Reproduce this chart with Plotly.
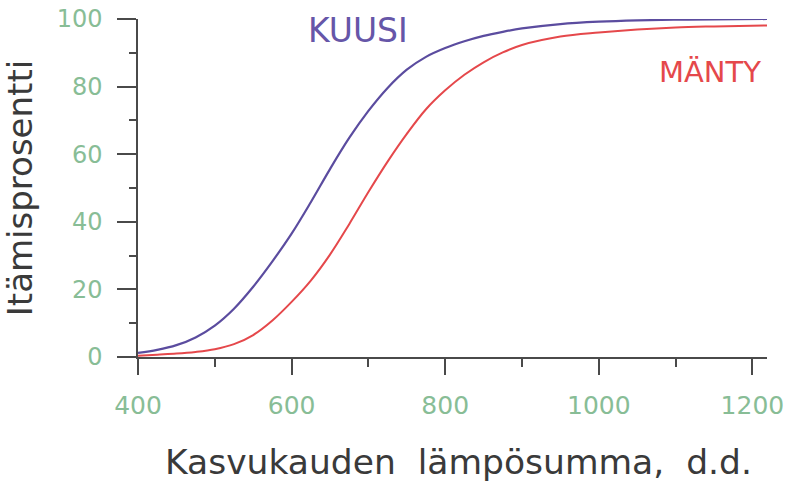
import plotly.graph_objects as go

# Data
lampo = [400, 425, 450, 475, 500, 525, 550, 575, 600, 625, 650, 675, 700, 725,
         750, 775, 800, 825, 850, 875, 900, 950, 1000, 1050, 1100, 1150, 1220]
kuusi = [1.2, 2.1, 3.5, 5.8, 9.3, 14.3, 20.8, 28.3, 36.5, 45.8, 55.6, 64.8, 72.8, 79.6,
         85.0, 88.8, 91.4, 93.4, 95.0, 96.2, 97.2, 98.5, 99.2, 99.6, 99.8, 99.9, 100]
manty = [0.4, 0.7, 1.0, 1.5, 2.3, 3.8, 6.5, 10.8, 16.3, 22.6, 30.3, 39.3, 48.8, 57.8,
         66.0, 73.3, 78.9, 83.5, 87.2, 90.1, 92.3, 94.8, 96.0, 96.9, 97.5, 97.8, 98.1]

x_ticks = [400, 600, 800, 1000, 1200]
y_ticks = [0, 20, 40, 60, 80, 100]

kuusi_color = "#5b4c9f"
manty_color = "#e5484b"
tick_color = "#88bd96"
axis_color = "#4a4a4a"
title_color = "#3a3a3a"
font_fam = "DejaVu Sans"

fig = go.Figure()
fig.add_trace(go.Scatter(x=lampo, y=manty, mode="lines",
                         line=dict(color=manty_color, width=2, shape="spline", smoothing=1),
                         cliponaxis=False, name="MÄNTY", showlegend=False))
fig.add_trace(go.Scatter(x=lampo, y=kuusi, mode="lines",
                         line=dict(color=kuusi_color, width=2.2, shape="spline", smoothing=1),
                         cliponaxis=False, name="KUUSI", showlegend=False))

fig.add_annotation(x=686, y=96.7, xref="x", yref="y", text="KUUSI", showarrow=False,
                   font=dict(family=font_fam, size=33, color="#6656a8"))
fig.add_annotation(x=1145, y=84.4, xref="x", yref="y", text="MÄNTY", showarrow=False,
                   font=dict(family=font_fam, size=29, color=manty_color))
# x-axis title
fig.add_annotation(x=0.5103, y=-0.312, xref="paper", yref="paper", xanchor="center", yanchor="middle",
                   text="Kasvukauden\u00a0\u00a0lämpösumma,\u00a0\u00a0d.d.", showarrow=False,
                   font=dict(family=font_fam, size=34.5, color=title_color))

fig.update_layout(
    width=788, height=482,
    margin=dict(l=138, r=21, t=19, b=125),
    paper_bgcolor="white", plot_bgcolor="white",
    font=dict(family=font_fam),
)
fig.update_xaxes(
    range=[400, 1219], tickvals=x_ticks, ticktext=[str(v) for v in x_ticks],
    automargin=False, ticklabeloverflow="allow",
    showgrid=False, zeroline=False, showline=True, linecolor=axis_color, linewidth=1.5,
    ticks="outside", ticklen=16, tickwidth=1.5, tickcolor=axis_color,
    minor=dict(dtick=100, tick0=400, ticks="outside", ticklen=8, tickwidth=1.5, tickcolor=axis_color, showgrid=False),
    tickfont=dict(family=font_fam, size=25, color=tick_color), ticklabelstandoff=9,
)
fig.update_yaxes(
    range=[0, 100], tickvals=y_ticks, ticktext=[str(v) for v in y_ticks],
    automargin=False, ticklabeloverflow="allow",
    showgrid=False, zeroline=False, showline=True, linecolor=axis_color, linewidth=1.5,
    ticks="outside", ticklen=19, tickwidth=1.5, tickcolor=axis_color,
    minor=dict(dtick=10, tick0=0, ticks="outside", ticklen=7, tickwidth=1.5, tickcolor=axis_color, showgrid=False),
    tickfont=dict(family=font_fam, size=24, color=tick_color), ticklabelstandoff=10,
    title=dict(text="Itämisprosentti", font=dict(family=font_fam, size=34, color=title_color), standoff=18),
)

fig.write_html("out.html", config={"displayModeBar": False},
               post_script="document.body.style.margin='0';document.body.style.overflow='hidden';")
